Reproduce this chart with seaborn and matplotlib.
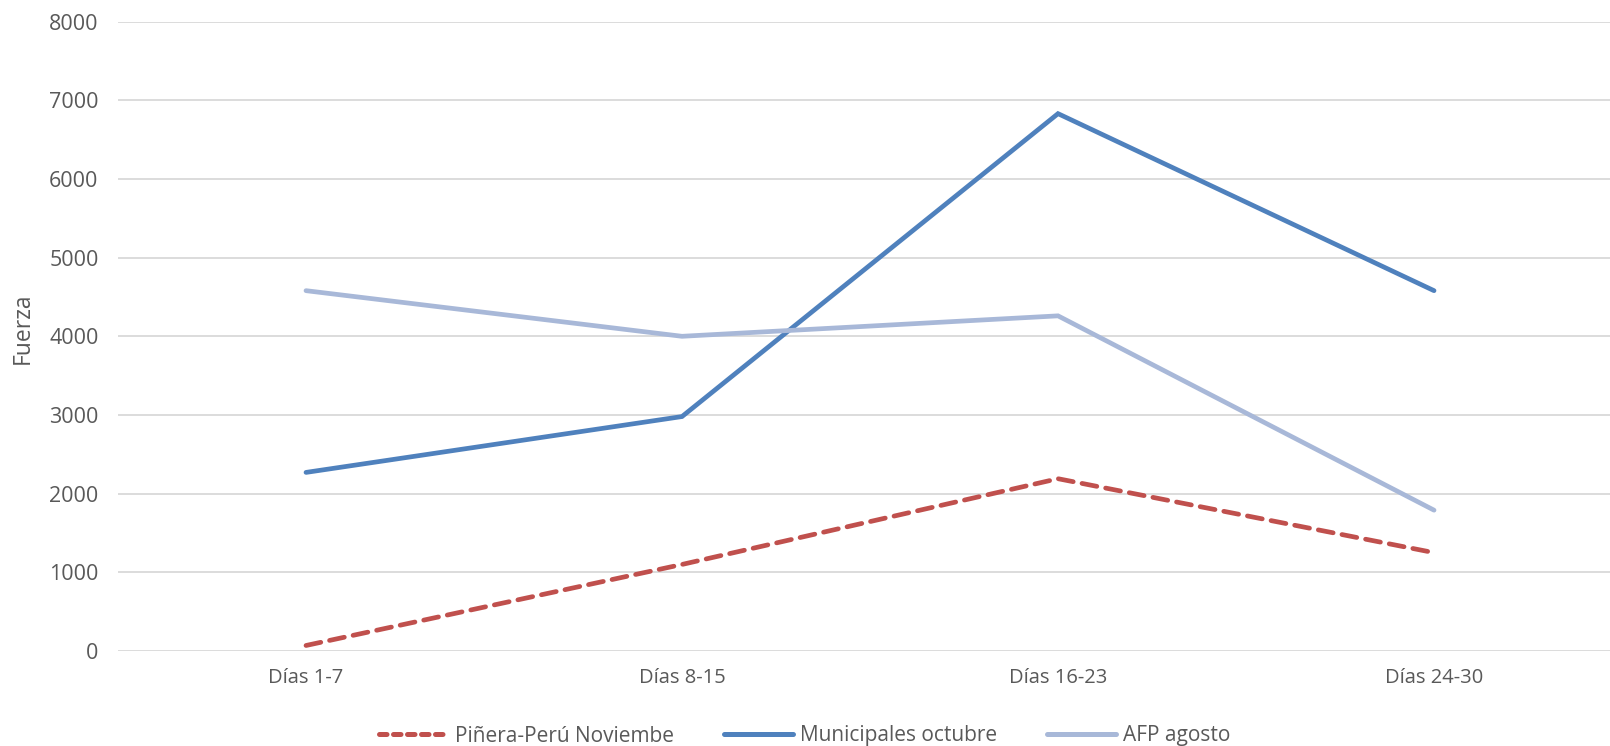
import numpy as np
import pandas as pd
import seaborn as sns
from matplotlib import pyplot as plt

dias = ["Días 1-7", "Días 8-15", "Días 16-23", "Días 24-30"]
pinera = [70, 1100, 2190, 1250]
municipales = [2270, 2980, 6830, 4580]
afp = [4580, 4000, 4260, 1790]

series = ["Piñera-Perú Noviembe", "Municipales octubre", "AFP agosto"]
colores = ["#C0504D", "#4F81BD", "#A8B8D8"]

df = pd.DataFrame({
    "x": list(range(len(dias))) * 3,
    "Fuerza": pinera + municipales + afp,
    "serie": [s for s in series for _ in dias],
})

sns.set_theme(style="white")
plt.rcParams['font.family'] = ['Open Sans', 'DejaVu Sans']

fig = plt.figure(figsize=(16.1, 7.46), dpi=100)
ax = fig.add_axes([118 / 1610, 1 - 651 / 746, 1 - 118 / 1610, (651 - 21.6) / 746])

sns.lineplot(data=df, x="x", y="Fuerza", hue="serie", style="serie",
             palette=dict(zip(series, colores)),
             dashes={series[0]: (3.2, 1.9), series[1]: "", series[2]: ""},
             linewidth=3.4, ax=ax, legend=False)
for ln in ax.get_lines():
    ln.set_solid_capstyle("round")
    ln.set_dash_capstyle("round")
    ln.set_solid_joinstyle("miter")

ax.set_ylim(0, 8000)
ax.set_xlim(-0.5, 3.468)
ax.set_yticks(np.arange(0, 8001, 1000))
ax.set_xticks(range(len(dias)))
ax.set_xticklabels(dias, fontsize=14.5, color="#595959")
ax.tick_params(axis="y", labelsize=15.5, labelcolor="#595959", pad=14, length=0)
ax.tick_params(axis="x", length=0, pad=12)
ax.yaxis.grid(True, color="#D9D9D9", linewidth=1.3)
ax.set_axisbelow(True)
for s in ax.spines.values():
    s.set_visible(False)
ax.set_xlabel("")
ax.set_ylabel("")
fig.text(22.6 / 1610, 1 - 328 / 746, "Fuerza", rotation=90, fontsize=16.5,
         color="#595959", ha="center", va="center")

handles = [plt.Line2D([], [], color=c, linewidth=3.6, solid_capstyle="round",
                      dash_capstyle="round",
                      linestyle=(0, (1.5, 1.3)) if i == 0 else "-")
           for i, c in enumerate(colores)]
fig.legend(handles, series, loc="center", bbox_to_anchor=(0.5, 1 - 736 / 746), ncol=3,
           frameon=False, handlelength=3.3, columnspacing=2.4, handletextpad=0.35,
           prop={"size": 15}, labelcolor="#595959")

fig.savefig("out.png", dpi=100)
